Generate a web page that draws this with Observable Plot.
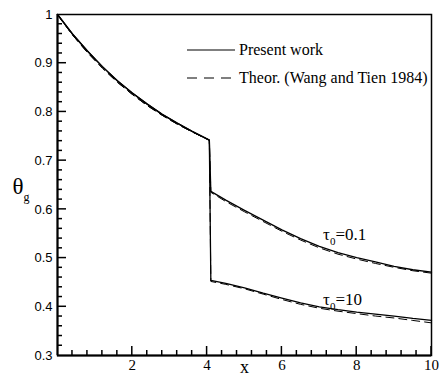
<!DOCTYPE html>
<html><head><meta charset="utf-8">
<script src="https://cdn.jsdelivr.net/npm/d3@7"></script>
<script src="https://cdn.jsdelivr.net/npm/@observablehq/plot@0.6"></script>
<style>body{margin:0;background:#fff} #chart{position:relative;width:439px;height:380px}</style>
</head><body><div id="chart"></div>
<script>
// ---- data ----
const xFirst = [0, 0.4, 0.8, 1.2, 1.6, 2.0, 2.4, 2.8, 3.2, 3.6, 4.06];
const presentFirst = [1.0, 0.960, 0.925, 0.893, 0.864, 0.839, 0.816, 0.795, 0.777, 0.760, 0.742];
const theoryFirst  = [1.0, 0.958, 0.922, 0.890, 0.861, 0.836, 0.813, 0.793, 0.775, 0.759, 0.742];
const xSecond = [4.1, 4.5, 5, 5.5, 6, 6.5, 7, 7.5, 8, 8.5, 9, 9.5, 10];
const presentTau01 = [0.637, 0.619, 0.598, 0.578, 0.558, 0.540, 0.524, 0.511, 0.501, 0.492, 0.483, 0.476, 0.471];
const presentTau10 = [0.454, 0.448, 0.439, 0.428, 0.418, 0.408, 0.400, 0.394, 0.389, 0.385, 0.381, 0.376, 0.372];
const theoryTau01  = [0.635, 0.616, 0.595, 0.575, 0.555, 0.537, 0.521, 0.508, 0.498, 0.489, 0.481, 0.474, 0.469];
const theoryTau10  = [0.452, 0.446, 0.437, 0.426, 0.415, 0.405, 0.397, 0.391, 0.386, 0.381, 0.377, 0.372, 0.367];
const seriesNames = ["τ0=0.1", "τ0=10"];
const annoX = [7.1, 7.1];
const annoY = [0.548, 0.415];
const legendLabels = ["Present work", "Theor. (Wang and Tien 1984)"];
const xDomain = [0, 10];
const yDomain = [0.3, 1];
const xTickLabels = [2, 4, 6, 8, 10];
const yTickLabels = [0.3, 0.4, 0.5, 0.6, 0.7, 0.8, 0.9, 1];
const xMinor = d3.range(1, 25).filter(i => i % 5 !== 0).map(i => +(i * 0.4).toFixed(2));
const yMinor = d3.range(16, 50).filter(i => i % 5 !== 0).map(i => +(i * 0.02).toFixed(2));
const yMajorInner = [0.4, 0.5, 0.6, 0.7, 0.8, 0.9];

// ---- build rows ----
function rows(first, second, name) {
  return xFirst.map((x, i) => ({x, y: first[i], series: name}))
    .concat(xSecond.map((x, i) => ({x, y: second[i], series: name})));
}
const presentRows = rows(presentFirst, presentTau01, seriesNames[0]).concat(rows(presentFirst, presentTau10, seriesNames[1]));
const theoryRows = rows(theoryFirst, theoryTau01, seriesNames[0]).concat(rows(theoryFirst, theoryTau10, seriesNames[1]));
const annotations = seriesNames.map((s, i) => ({label: s, x: annoX[i], y: annoY[i]}));

const serif = "'Liberation Serif', 'Times New Roman', serif";
const sans = "'Liberation Sans', Arial, sans-serif";

const chart = Plot.plot({
  width: 439, height: 380,
  marginLeft: 57, marginRight: 8, marginTop: 14, marginBottom: 25,
  x: {domain: xDomain, label: null},
  y: {domain: yDomain, label: null},
  style: {fontFamily: serif, fontSize: "15px", background: "white", color: "black"},
  marks: [
    Plot.axisX({ticks: xTickLabels, tickSize: 0, tickPadding: 4, label: null, fontSize: 15, fontFamily: serif}),
    Plot.axisY({ticks: yTickLabels, tickSize: 0, tickPadding: 5, label: null, fontSize: 13, fontFamily: sans, tickFormat: d => String(d)}),
    Plot.frame({stroke: "black", strokeWidth: 1.5, fill: "none"}),
    Plot.ruleX([xDomain[0]], {stroke: "black", strokeWidth: 2}),
    Plot.ruleY([yDomain[0]], {stroke: "black", strokeWidth: 2}),
    Plot.line(theoryRows, {x: "x", y: "y", z: "series", stroke: "black", strokeWidth: 1, strokeDasharray: "8,5"}),
    Plot.line(presentRows, {x: "x", y: "y", z: "series", stroke: "black", strokeWidth: 1.3}),
    Plot.text(annotations, {x: "x", y: "y", text: "label", textAnchor: "start", fontSize: 17, fontFamily: serif}),
    Plot.text(["x"], {frameAnchor: "bottom", dy: 17, text: d => d, fontSize: 18, fontFamily: serif}),
    Plot.text(["θg"], {frameAnchor: "left", dx: -45, dy: 2, text: d => d, textAnchor: "start", fontSize: 23, fontFamily: serif})
  ]
});

document.getElementById("chart").appendChild(chart);

const svg = d3.select(chart);

// inward ticks, positioned with the chart's own scales
const sx = chart.scale("x"), sy = chart.scale("y");
const X = v => sx.apply(v), Y = v => sy.apply(v);
const tg = svg.append("g").attr("stroke", "black").attr("stroke-width", 1.5);
const x0 = X(xDomain[0]), y0 = Y(yDomain[0]);
[[xTickLabels, 9], [xMinor, 5]].forEach(([ticks, len]) => {
  tg.selectAll(null).data(ticks).join("line")
    .attr("x1", d => X(d)).attr("x2", d => X(d)).attr("y1", y0).attr("y2", y0 - len);
});
[[yMajorInner, 9], [yMinor, 5]].forEach(([ticks, len]) => {
  tg.selectAll(null).data(ticks).join("line")
    .attr("y1", d => Y(d)).attr("y2", d => Y(d)).attr("x1", x0).attr("x2", x0 + len);
});

// subscripts
svg.selectAll("text").filter(function() { return this.textContent === "θg"; }).each(function() {
  const t = d3.select(this); t.text("");
  t.append("tspan").text("θ");
  t.append("tspan").attr("font-size", 12).attr("dy", 7).text("g");
});
svg.selectAll("text").filter(function() { return /^τ0=/.test(this.textContent); }).each(function() {
  const t = d3.select(this); const s = this.textContent; t.text("");
  t.append("tspan").text("τ");
  t.append("tspan").attr("font-size", 11).attr("dy", 5).text("0");
  t.append("tspan").attr("dy", -5).text(s.slice(2));
});
// legend
const lg = svg.append("g").attr("font-family", serif).attr("font-size", 16).attr("text-anchor", "start");
legendLabels.forEach((label, i) => {
  const y = 50 + i * 28;
  const ln = lg.append("line").attr("x1", 187).attr("x2", 235).attr("y1", y).attr("y2", y)
    .attr("stroke", "black").attr("stroke-width", 1.2);
  if (i === 1) ln.attr("stroke-dasharray", "10,7");
  lg.append("text").attr("x", 239).attr("y", y).attr("dy", "0.32em").attr("fill", "black")
    .attr("text-anchor", "start").text(label);
});
</script>
</body></html>
